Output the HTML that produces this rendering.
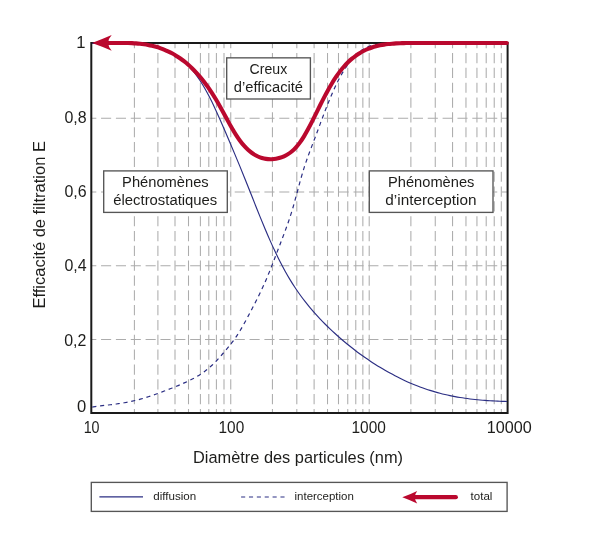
<!DOCTYPE html>
<html lang="fr"><head><meta charset="utf-8"><title>Efficacité de filtration</title>
<style>html,body{margin:0;padding:0;background:#fff}svg{display:block}text{font-family:"Liberation Sans",sans-serif;fill:#1d1d1b}</style></head><body>
<svg width="600" height="560" viewBox="0 0 600 560">
<rect width="600" height="560" fill="#fff"/>
<g stroke="#acacac" stroke-width="1.05" fill="none">
<line x1="134.40" y1="43.50" x2="134.40" y2="412.90" stroke-dasharray="10.20 4.63" stroke-dashoffset="5.33"/>
<line x1="157.90" y1="43.50" x2="157.90" y2="412.90" stroke-dasharray="10.20 4.63" stroke-dashoffset="5.33"/>
<line x1="175.00" y1="43.50" x2="175.00" y2="412.90" stroke-dasharray="10.20 4.63" stroke-dashoffset="5.33"/>
<line x1="188.50" y1="43.50" x2="188.50" y2="412.90" stroke-dasharray="10.20 4.63" stroke-dashoffset="5.33"/>
<line x1="200.40" y1="43.50" x2="200.40" y2="412.90" stroke-dasharray="10.20 4.63" stroke-dashoffset="5.33"/>
<line x1="208.80" y1="43.50" x2="208.80" y2="412.90" stroke-dasharray="10.20 4.63" stroke-dashoffset="5.33"/>
<line x1="216.40" y1="43.50" x2="216.40" y2="412.90" stroke-dasharray="10.20 4.63" stroke-dashoffset="5.33"/>
<line x1="224.00" y1="43.50" x2="224.00" y2="412.90" stroke-dasharray="10.20 4.63" stroke-dashoffset="5.33"/>
<line x1="230.75" y1="43.50" x2="230.75" y2="412.90" stroke-dasharray="10.20 4.63" stroke-dashoffset="5.33"/>
<line x1="272.43" y1="43.50" x2="272.43" y2="412.90" stroke-dasharray="10.20 4.63" stroke-dashoffset="5.33"/>
<line x1="296.81" y1="43.50" x2="296.81" y2="412.90" stroke-dasharray="10.20 4.63" stroke-dashoffset="5.33"/>
<line x1="314.11" y1="43.50" x2="314.11" y2="412.90" stroke-dasharray="10.20 4.63" stroke-dashoffset="5.33"/>
<line x1="327.52" y1="43.50" x2="327.52" y2="412.90" stroke-dasharray="10.20 4.63" stroke-dashoffset="5.33"/>
<line x1="338.49" y1="43.50" x2="338.49" y2="412.90" stroke-dasharray="10.20 4.63" stroke-dashoffset="5.33"/>
<line x1="347.75" y1="43.50" x2="347.75" y2="412.90" stroke-dasharray="10.20 4.63" stroke-dashoffset="5.33"/>
<line x1="355.78" y1="43.50" x2="355.78" y2="412.90" stroke-dasharray="10.20 4.63" stroke-dashoffset="5.33"/>
<line x1="362.86" y1="43.50" x2="362.86" y2="412.90" stroke-dasharray="10.20 4.63" stroke-dashoffset="5.33"/>
<line x1="369.20" y1="43.50" x2="369.20" y2="412.90" stroke-dasharray="10.20 4.63" stroke-dashoffset="5.33"/>
<line x1="410.88" y1="43.50" x2="410.88" y2="412.90" stroke-dasharray="10.20 4.63" stroke-dashoffset="5.33"/>
<line x1="435.26" y1="43.50" x2="435.26" y2="412.90" stroke-dasharray="10.20 4.63" stroke-dashoffset="5.33"/>
<line x1="452.56" y1="43.50" x2="452.56" y2="412.90" stroke-dasharray="10.20 4.63" stroke-dashoffset="5.33"/>
<line x1="465.97" y1="43.50" x2="465.97" y2="412.90" stroke-dasharray="10.20 4.63" stroke-dashoffset="5.33"/>
<line x1="476.94" y1="43.50" x2="476.94" y2="412.90" stroke-dasharray="10.20 4.63" stroke-dashoffset="5.33"/>
<line x1="486.20" y1="43.50" x2="486.20" y2="412.90" stroke-dasharray="10.20 4.63" stroke-dashoffset="5.33"/>
<line x1="494.23" y1="43.50" x2="494.23" y2="412.90" stroke-dasharray="10.20 4.63" stroke-dashoffset="5.33"/>
<line x1="501.31" y1="43.50" x2="501.31" y2="412.90" stroke-dasharray="10.20 4.63" stroke-dashoffset="5.33"/>
<line x1="91.30" y1="339.45" x2="507.80" y2="339.45" stroke-dasharray="10.10 4.75" stroke-dashoffset="5.10"/>
<line x1="91.30" y1="265.75" x2="507.80" y2="265.75" stroke-dasharray="10.10 4.75" stroke-dashoffset="5.10"/>
<line x1="91.30" y1="192.05" x2="507.80" y2="192.05" stroke-dasharray="10.10 4.75" stroke-dashoffset="5.10"/>
<line x1="91.30" y1="118.20" x2="507.80" y2="118.20" stroke-dasharray="10.10 4.75" stroke-dashoffset="5.10"/>
</g>
<rect x="91.3" y="43.0" width="416.3" height="370.0" fill="none" stroke="#1a1a1a" stroke-width="2"/>
<path d="M92.30,43.40 C93.58,43.41 97.88,43.44 100.00,43.44 C102.12,43.43 103.33,43.37 105.00,43.35 C106.67,43.33 108.33,43.31 110.00,43.30 C111.67,43.29 113.33,43.30 115.00,43.30 C116.67,43.30 118.33,43.30 120.00,43.30 C121.67,43.30 123.33,43.29 125.00,43.30 C126.67,43.31 128.33,43.32 130.00,43.36 C131.67,43.40 133.33,43.46 135.00,43.55 C136.67,43.63 138.33,43.73 140.00,43.86 C141.67,44.00 143.33,44.15 145.00,44.36 C146.67,44.56 148.33,44.78 150.00,45.07 C151.67,45.35 153.33,45.68 155.00,46.06 C156.67,46.45 158.33,46.89 160.00,47.41 C161.67,47.92 163.33,48.50 165.00,49.17 C166.67,49.84 168.33,50.57 170.00,51.42 C171.67,52.27 173.33,53.21 175.00,54.27 C176.67,55.33 178.33,56.48 180.00,57.79 C181.67,59.09 183.33,60.51 185.00,62.09 C186.67,63.67 188.33,65.38 190.00,67.26 C191.67,69.15 193.33,71.18 195.00,73.40 C196.67,75.61 198.33,77.99 200.00,80.56 C201.67,83.13 203.33,85.87 205.00,88.80 C206.67,91.72 208.33,94.84 210.00,98.11 C211.67,101.37 213.33,104.84 215.00,108.39 C216.67,111.95 218.33,115.68 220.00,119.45 C221.67,123.21 223.33,127.10 225.00,130.98 C226.67,134.86 228.33,138.80 230.00,142.74 C231.67,146.68 233.33,150.63 235.00,154.61 C236.67,158.60 238.33,162.60 240.00,166.65 C241.67,170.70 243.33,174.80 245.00,178.94 C246.67,183.08 248.33,187.28 250.00,191.47 C251.67,195.66 253.33,199.92 255.00,204.11 C256.67,208.30 258.33,212.50 260.00,216.61 C261.67,220.72 263.33,224.80 265.00,228.76 C266.67,232.73 268.33,236.62 270.00,240.38 C271.67,244.15 273.33,247.81 275.00,251.34 C276.67,254.87 278.33,258.27 280.00,261.54 C281.67,264.81 283.33,267.95 285.00,270.96 C286.67,273.96 288.33,276.83 290.00,279.58 C291.67,282.33 293.33,284.95 295.00,287.47 C296.67,290.00 298.33,292.40 300.00,294.72 C301.67,297.04 303.33,299.25 305.00,301.40 C306.67,303.55 308.33,305.61 310.00,307.60 C311.67,309.60 313.33,311.52 315.00,313.40 C316.67,315.27 318.33,317.07 320.00,318.83 C321.67,320.60 323.33,322.30 325.00,323.97 C326.67,325.64 328.33,327.27 330.00,328.85 C331.67,330.44 333.33,331.99 335.00,333.51 C336.67,335.02 338.33,336.50 340.00,337.96 C341.67,339.41 343.33,340.83 345.00,342.21 C346.67,343.60 348.33,344.96 350.00,346.29 C351.67,347.62 353.33,348.92 355.00,350.20 C356.67,351.47 358.33,352.71 360.00,353.93 C361.67,355.15 363.33,356.34 365.00,357.51 C366.67,358.67 368.33,359.81 370.00,360.92 C371.67,362.04 373.33,363.13 375.00,364.19 C376.67,365.25 378.33,366.29 380.00,367.30 C381.67,368.32 383.33,369.31 385.00,370.27 C386.67,371.23 388.33,372.17 390.00,373.09 C391.67,374.01 393.33,374.90 395.00,375.77 C396.67,376.63 398.33,377.47 400.00,378.29 C401.67,379.11 403.33,379.90 405.00,380.67 C406.67,381.44 408.33,382.19 410.00,382.91 C411.67,383.63 413.33,384.32 415.00,384.99 C416.67,385.66 418.33,386.31 420.00,386.93 C421.67,387.56 423.33,388.15 425.00,388.73 C426.67,389.30 428.33,389.86 430.00,390.38 C431.67,390.91 433.33,391.42 435.00,391.90 C436.67,392.38 438.33,392.84 440.00,393.28 C441.67,393.72 443.33,394.13 445.00,394.52 C446.67,394.92 448.33,395.29 450.00,395.64 C451.67,396.00 453.33,396.33 455.00,396.64 C456.67,396.96 458.33,397.25 460.00,397.52 C461.67,397.80 463.33,398.05 465.00,398.29 C466.67,398.53 468.33,398.75 470.00,398.96 C471.67,399.17 473.33,399.36 475.00,399.53 C476.67,399.71 478.33,399.87 480.00,400.01 C481.67,400.16 483.33,400.29 485.00,400.42 C486.67,400.54 488.33,400.65 490.00,400.75 C491.67,400.85 493.33,400.94 495.00,401.02 C496.67,401.10 498.33,401.18 500.00,401.24 C501.67,401.31 503.83,401.39 505.00,401.43 C506.17,401.47 506.67,401.48 507.00,401.49" fill="none" stroke="#2b2e83" stroke-width="1.15"/>
<path d="M92.30,407.06 C92.97,406.96 94.97,406.64 96.30,406.45 C97.63,406.26 98.97,406.09 100.30,405.92 C101.63,405.76 102.97,405.60 104.30,405.44 C105.63,405.29 106.97,405.13 108.30,404.98 C109.63,404.82 110.97,404.66 112.30,404.49 C113.63,404.33 114.97,404.16 116.30,403.98 C117.63,403.79 118.97,403.60 120.30,403.40 C121.63,403.19 122.97,402.98 124.30,402.75 C125.63,402.51 126.97,402.27 128.30,402.01 C129.63,401.74 130.97,401.46 132.30,401.17 C133.63,400.87 134.97,400.56 136.30,400.23 C137.63,399.89 138.97,399.55 140.30,399.18 C141.63,398.81 142.97,398.43 144.30,398.03 C145.63,397.63 146.97,397.21 148.30,396.78 C149.63,396.35 150.97,395.91 152.30,395.45 C153.63,394.99 154.97,394.52 156.30,394.04 C157.63,393.56 158.97,393.07 160.30,392.57 C161.63,392.07 162.97,391.57 164.30,391.06 C165.63,390.55 166.97,390.03 168.30,389.51 C169.63,388.99 170.97,388.47 172.30,387.94 C173.63,387.41 174.97,386.87 176.30,386.32 C177.63,385.78 178.97,385.23 180.30,384.66 C181.63,384.09 182.97,383.52 184.30,382.92 C185.63,382.32 186.97,381.71 188.30,381.07 C189.63,380.43 190.97,379.77 192.30,379.07 C193.63,378.38 194.97,377.66 196.30,376.89 C197.63,376.12 198.97,375.31 200.30,374.45 C201.63,373.58 202.97,372.68 204.30,371.70 C205.63,370.72 206.97,369.68 208.30,368.56 C209.63,367.44 210.97,366.25 212.30,364.99 C213.63,363.72 214.97,362.38 216.30,360.98 C217.63,359.58 218.97,358.11 220.30,356.61 C221.63,355.11 222.97,353.56 224.30,351.99 C225.63,350.42 226.97,348.84 228.30,347.19 C229.63,345.54 230.97,343.89 232.30,342.11 C233.63,340.34 234.97,338.51 236.30,336.54 C237.63,334.57 238.97,332.47 240.30,330.27 C241.63,328.06 242.97,325.71 244.30,323.31 C245.63,320.91 246.97,318.40 248.30,315.89 C249.63,313.39 250.97,310.84 252.30,308.29 C253.63,305.73 254.97,303.18 256.30,300.55 C257.63,297.92 258.97,295.28 260.30,292.49 C261.63,289.71 262.97,286.86 264.30,283.87 C265.63,280.88 266.97,277.77 268.30,274.55 C269.63,271.34 270.97,267.99 272.30,264.60 C273.63,261.21 274.97,257.69 276.30,254.20 C277.63,250.71 278.97,247.19 280.30,243.68 C281.63,240.18 282.97,236.74 284.30,233.16 C285.63,229.57 286.97,226.07 288.30,222.18 C289.63,218.29 290.97,214.25 292.30,209.82 C293.63,205.38 294.97,200.43 296.30,195.58 C297.63,190.73 298.97,185.44 300.30,180.71 C301.63,175.98 302.97,171.38 304.30,167.19 C305.63,163.00 306.97,159.27 308.30,155.55 C309.63,151.84 310.97,148.43 312.30,144.90 C313.63,141.37 314.97,137.91 316.30,134.37 C317.63,130.82 318.97,127.21 320.30,123.64 C321.63,120.07 322.97,116.43 324.30,112.94 C325.63,109.45 326.97,105.99 328.30,102.70 C329.63,99.40 330.97,96.20 332.30,93.17 C333.63,90.13 334.97,87.23 336.30,84.49 C337.63,81.74 338.97,79.14 340.30,76.69 C341.63,74.25 342.97,71.95 344.30,69.81 C345.63,67.66 346.97,65.67 348.30,63.83 C349.63,61.98 350.97,60.29 352.30,58.75 C353.63,57.20 354.97,55.80 356.30,54.53 C357.63,53.27 358.97,52.15 360.30,51.15 C361.63,50.15 362.97,49.29 364.30,48.53 C365.63,47.78 366.97,47.15 368.30,46.62 C369.63,46.08 370.97,45.66 372.30,45.32 C373.63,44.97 374.97,44.72 376.30,44.53 C377.63,44.33 378.97,44.22 380.30,44.14 C381.63,44.05 382.97,44.03 384.30,44.01 C385.63,43.99 386.97,44.01 388.30,44.01 C389.63,44.01 390.97,44.02 392.30,44.00 C393.63,43.98 394.97,43.95 396.30,43.89 C397.63,43.84 398.97,43.75 400.30,43.66 C401.63,43.56 402.97,43.39 404.30,43.31 C405.63,43.24 406.97,43.22 408.30,43.20 C409.63,43.18 410.97,43.20 412.30,43.20 C413.63,43.20 413.35,43.20 416.30,43.20 C419.25,43.20 414.88,43.20 430.00,43.20 C445.12,43.20 494.17,43.20 507.00,43.20" fill="none" stroke="#2b2e83" stroke-width="1.2" stroke-dasharray="4.1 3.77"/>
<path d="M104.00,42.95 C105.33,42.96 110.00,43.02 112.00,43.02 C114.00,43.02 114.67,42.96 116.00,42.95 C117.33,42.94 118.67,42.95 120.00,42.95 C121.33,42.95 122.67,42.95 124.00,42.95 C125.33,42.95 126.67,42.93 128.00,42.95 C129.33,42.97 130.67,43.03 132.00,43.10 C133.33,43.17 134.67,43.25 136.00,43.36 C137.33,43.46 138.67,43.59 140.00,43.74 C141.33,43.88 142.67,44.05 144.00,44.25 C145.33,44.45 146.67,44.67 148.00,44.93 C149.33,45.18 150.67,45.46 152.00,45.78 C153.33,46.09 154.67,46.44 156.00,46.82 C157.33,47.20 158.67,47.62 160.00,48.08 C161.33,48.54 162.67,49.03 164.00,49.57 C165.33,50.11 166.67,50.68 168.00,51.31 C169.33,51.94 170.67,52.60 172.00,53.32 C173.33,54.04 174.67,54.81 176.00,55.63 C177.33,56.45 178.67,57.32 180.00,58.25 C181.33,59.17 182.67,60.15 184.00,61.20 C185.33,62.24 186.67,63.34 188.00,64.50 C189.33,65.67 190.67,66.89 192.00,68.19 C193.33,69.48 194.67,70.84 196.00,72.28 C197.33,73.71 198.67,75.21 200.00,76.79 C201.33,78.36 202.67,80.01 204.00,81.74 C205.33,83.48 206.67,85.28 208.00,87.18 C209.33,89.07 210.67,91.04 212.00,93.10 C213.33,95.17 214.67,97.32 216.00,99.55 C217.33,101.78 218.67,104.11 220.00,106.48 C221.33,108.85 222.67,111.31 224.00,113.76 C225.33,116.20 226.67,118.71 228.00,121.13 C229.33,123.56 230.67,125.99 232.00,128.28 C233.33,130.58 234.67,132.81 236.00,134.89 C237.33,136.96 238.67,138.93 240.00,140.73 C241.33,142.53 242.67,144.18 244.00,145.69 C245.33,147.20 246.67,148.54 248.00,149.76 C249.33,150.98 250.67,152.05 252.00,153.00 C253.33,153.96 254.67,154.78 256.00,155.50 C257.33,156.22 258.67,156.82 260.00,157.32 C261.33,157.83 262.67,158.22 264.00,158.53 C265.33,158.83 266.67,159.04 268.00,159.15 C269.33,159.27 270.67,159.30 272.00,159.23 C273.33,159.17 274.67,159.02 276.00,158.79 C277.33,158.55 278.67,158.23 280.00,157.81 C281.33,157.40 282.67,156.90 284.00,156.29 C285.33,155.68 286.67,154.99 288.00,154.14 C289.33,153.30 290.67,152.35 292.00,151.21 C293.33,150.08 294.67,148.80 296.00,147.32 C297.33,145.84 298.67,144.19 300.00,142.35 C301.33,140.51 302.67,138.48 304.00,136.31 C305.33,134.13 306.67,131.76 308.00,129.32 C309.33,126.87 310.67,124.26 312.00,121.64 C313.33,119.02 314.67,116.29 316.00,113.60 C317.33,110.92 318.67,108.18 320.00,105.51 C321.33,102.85 322.67,100.19 324.00,97.63 C325.33,95.07 326.67,92.55 328.00,90.15 C329.33,87.74 330.67,85.42 332.00,83.22 C333.33,81.02 334.67,78.92 336.00,76.95 C337.33,74.98 338.67,73.12 340.00,71.38 C341.33,69.64 342.67,68.03 344.00,66.52 C345.33,65.00 346.67,63.61 348.00,62.30 C349.33,60.99 350.67,59.79 352.00,58.67 C353.33,57.55 354.67,56.53 356.00,55.57 C357.33,54.62 358.67,53.76 360.00,52.96 C361.33,52.16 362.67,51.44 364.00,50.77 C365.33,50.10 366.67,49.50 368.00,48.96 C369.33,48.41 370.67,47.92 372.00,47.48 C373.33,47.03 374.67,46.64 376.00,46.29 C377.33,45.93 378.67,45.62 380.00,45.35 C381.33,45.07 382.67,44.83 384.00,44.62 C385.33,44.41 386.67,44.23 388.00,44.07 C389.33,43.91 390.67,43.78 392.00,43.67 C393.33,43.56 394.67,43.47 396.00,43.39 C397.33,43.31 398.67,43.25 400.00,43.20 C401.33,43.15 402.67,43.11 404.00,43.08 C405.33,43.05 406.67,43.03 408.00,43.02 C409.33,43.00 410.67,43.00 412.00,42.99 C413.33,42.98 414.67,42.98 416.00,42.98 C417.33,42.98 417.67,42.99 420.00,42.99 C422.33,42.98 415.53,42.96 430.00,42.95 C444.47,42.94 494.00,42.95 506.80,42.95" fill="none" stroke="#ba082e" stroke-width="4.1" stroke-linecap="round" stroke-linejoin="round"/>
<path d="M92.0,42.9 Q102,39.4 111.7,35.1 Q104.6,42.9 111.7,50.7 Q102,46.4 92.0,42.9 Z" fill="#ba082e"/>
<rect x="226.70" y="57.85" width="83.70" height="41.15" fill="#fff" stroke="#565656" stroke-width="1.35"/>
<text x="268.40" y="73.80" font-size="14.90" text-anchor="middle" textLength="37.60" lengthAdjust="spacingAndGlyphs">Creux</text>
<text x="268.40" y="91.80" font-size="14.90" text-anchor="middle" textLength="69.30" lengthAdjust="spacingAndGlyphs">d’efficacité</text>
<rect x="103.70" y="170.90" width="123.60" height="41.50" fill="#fff" stroke="#565656" stroke-width="1.35"/>
<text x="165.40" y="186.90" font-size="14.90" text-anchor="middle" textLength="86.60" lengthAdjust="spacingAndGlyphs">Phénomènes</text>
<text x="165.30" y="205.20" font-size="14.90" text-anchor="middle" textLength="104.00" lengthAdjust="spacingAndGlyphs">électrostatiques</text>
<rect x="369.30" y="170.90" width="123.70" height="41.50" fill="#fff" stroke="#565656" stroke-width="1.35"/>
<text x="431.20" y="186.90" font-size="14.90" text-anchor="middle" textLength="86.40" lengthAdjust="spacingAndGlyphs">Phénomènes</text>
<text x="430.90" y="205.20" font-size="14.90" text-anchor="middle" textLength="91.20" lengthAdjust="spacingAndGlyphs">d’interception</text>
<text x="85.50" y="47.70" font-size="16.60" text-anchor="end">1</text>
<text x="86.60" y="122.60" font-size="16.60" text-anchor="end" textLength="22.20" lengthAdjust="spacingAndGlyphs">0,8</text>
<text x="86.60" y="197.30" font-size="16.60" text-anchor="end" textLength="22.20" lengthAdjust="spacingAndGlyphs">0,6</text>
<text x="86.60" y="270.70" font-size="16.60" text-anchor="end" textLength="22.20" lengthAdjust="spacingAndGlyphs">0,4</text>
<text x="86.40" y="346.10" font-size="16.60" text-anchor="end" textLength="22.20" lengthAdjust="spacingAndGlyphs">0,2</text>
<text x="86.30" y="412.40" font-size="16.60" text-anchor="end">0</text>
<text x="91.60" y="432.60" font-size="16.60" text-anchor="middle" textLength="15.90" lengthAdjust="spacingAndGlyphs">10</text>
<text x="231.40" y="432.60" font-size="16.60" text-anchor="middle" textLength="25.70" lengthAdjust="spacingAndGlyphs">100</text>
<text x="368.70" y="432.60" font-size="16.60" text-anchor="middle" textLength="34.40" lengthAdjust="spacingAndGlyphs">1000</text>
<text x="509.20" y="432.60" font-size="16.60" text-anchor="middle" textLength="45.00" lengthAdjust="spacingAndGlyphs">10000</text>
<text x="298.00" y="463.40" font-size="17.20" text-anchor="middle" textLength="210.00" lengthAdjust="spacingAndGlyphs">Diamètre des particules (nm)</text>
<text transform="translate(45,224.8) rotate(-90)" font-size="16.8" text-anchor="middle" textLength="167.5" lengthAdjust="spacingAndGlyphs">Efficacité de filtration E</text>
<rect x="91.3" y="482.4" width="415.8" height="29" fill="#fff" stroke="#565656" stroke-width="1.35"/>
<line x1="99.4" y1="496.9" x2="143" y2="496.9" stroke="#2b2e83" stroke-width="1.1"/>
<line x1="241.1" y1="497.0" x2="284.7" y2="497.0" stroke="#2b2e83" stroke-width="1.2" stroke-dasharray="4.1 3.77"/>
<line x1="412" y1="497.2" x2="455.8" y2="497.2" stroke="#ba082e" stroke-width="4.25" stroke-linecap="round"/>
<path d="M402.3,497.2 Q410,494.4 417.2,490.9 Q412.4,497.2 417.2,503.5 Q410,500 402.3,497.2 Z" fill="#ba082e"/>
<text x="153.30" y="500.20" font-size="11.00" text-anchor="start" textLength="42.90" lengthAdjust="spacingAndGlyphs">diffusion</text>
<text x="294.50" y="500.20" font-size="11.00" text-anchor="start" textLength="59.40" lengthAdjust="spacingAndGlyphs">interception</text>
<text x="470.60" y="500.20" font-size="11.00" text-anchor="start" textLength="21.80" lengthAdjust="spacingAndGlyphs">total</text>
</svg></body></html>
